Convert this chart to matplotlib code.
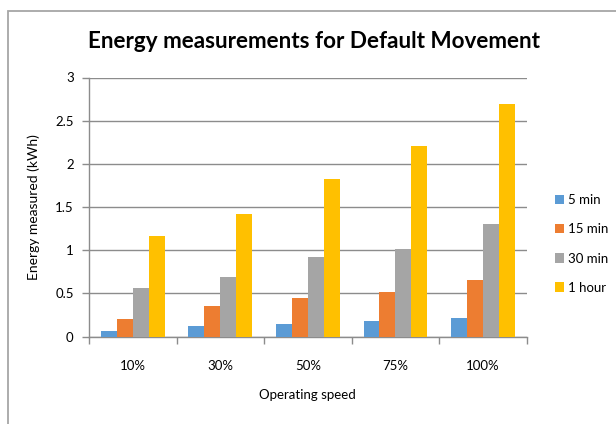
import numpy as np
import matplotlib
matplotlib.use("Agg")
import matplotlib.pyplot as plt
from matplotlib.patches import Rectangle

categories = ["10%", "30%", "50%", "75%", "100%"]
series_names = ["5 min", "15 min", "30 min", "1 hour"]
min5 = [0.07, 0.12, 0.15, 0.18, 0.22]
min15 = [0.21, 0.36, 0.45, 0.52, 0.66]
min30 = [0.56, 0.69, 0.92, 1.02, 1.31]
hour1 = [1.17, 1.42, 1.83, 2.21, 2.69]
colors = ["#5B9BD5", "#ED7D31", "#A5A5A5", "#FFC000"]

plt.rcParams['font.family'] = ['Lato', 'DejaVu Sans']

fig = plt.figure(figsize=(6.16, 4.24), dpi=100)
ax = fig.add_axes([89/616, 1-336.7/424, (526.7-89)/616, (336.7-77.5)/424])

x = np.arange(len(categories))
bw = 0.182
data = [min5, min15, min30, hour1]
handles = []
for i, (vals, c, name) in enumerate(zip(data, colors, series_names)):
    h = ax.bar(x + (i - 1.5) * bw, vals, bw, color=c, label=name, zorder=3)
    handles.append(h)

ax.set_xlim(-0.5, len(categories) - 0.5)
ax.set_ylim(0, 3)
ax.set_yticks(np.arange(0, 3.01, 0.5))
ax.set_yticklabels(["0", "0.5", "1", "1.5", "2", "2.5", "3"])
ax.yaxis.grid(True, color="#8c8c8c", lw=1.0, zorder=0)
ax.set_axisbelow(True)

ax.set_xticks(np.arange(len(categories) + 1) - 0.5)
ax.set_xticklabels([])
ax.set_xticks(x, minor=True)
ax.set_xticklabels(categories, minor=True)
ax.tick_params(axis='x', which='major', length=5, color="#8c8c8c", width=1)
ax.tick_params(axis='x', which='minor', length=0, pad=17, labelsize=9.5)
ax.tick_params(axis='y', length=5, color="#8c8c8c", width=1, pad=6, labelsize=9.5)

for s in ["top", "right"]:
    ax.spines[s].set_visible(False)
for s in ["left", "bottom"]:
    ax.spines[s].set_color("#8c8c8c")
    ax.spines[s].set_linewidth(1)

ax.set_xlabel("Operating speed", fontsize=9.5, labelpad=12)
ax.set_ylabel("Energy measured (kWh)", fontsize=10, labelpad=11)

fig.text(314/616, 1-42/424, "Energy measurements for Default Movement",
         ha="center", va="center", fontsize=16.2, fontweight="bold")

fig.legend(handles=handles, labels=series_names, loc="center left",
           bbox_to_anchor=(543/616, 1-244/424), frameon=False,
           handlelength=0.7, handleheight=0.7, handletextpad=0.3,
           labelspacing=1.3, fontsize=9.5)

fig.add_artist(Rectangle((7.5/616, -0.1), 1.0, 1 - 10.7/424 + 0.1,
                         transform=fig.transFigure, fill=False,
                         edgecolor="#a6a6a6", lw=1.3))

fig.savefig("out.png", dpi=100)
